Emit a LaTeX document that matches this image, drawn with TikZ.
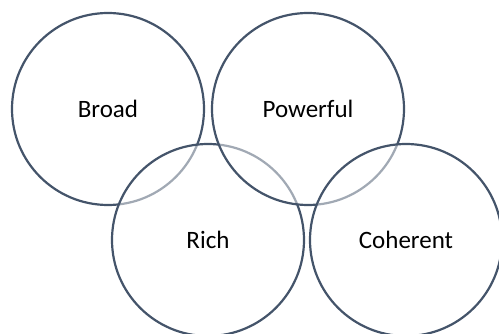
\documentclass[tikz,border=0pt]{standalone}
\usepackage{fontspec}
\setmainfont{Carlito}
\usepackage{tikz}
\usetikzlibrary{arrows.meta, calc}
\definecolor{ringblue}{HTML}{44546A}
\tikzset{ring/.style={circle, draw=ringblue, line width=2.2pt,
        fill=white, fill opacity=0.5, text opacity=1, text=black,
        minimum size=192pt, inner sep=0pt,
        font=\fontsize{25}{30}\selectfont}}

\begin{document}
\begin{tikzpicture}[x=1pt, y=-1pt]
                \useasboundingbox (0, 0) rectangle (499, 334);

                % top row first, then the lower row on top
                \node[ring] (broad) at (108, 109) {Broad};
                \node[ring] (rich) at (208, 240) {Rich};
                \node[ring] (powerful) at (308, 109) {Powerful};
                \node[ring] (coherent) at (406, 240) {Coherent};
            \end{tikzpicture}
\end{document}
